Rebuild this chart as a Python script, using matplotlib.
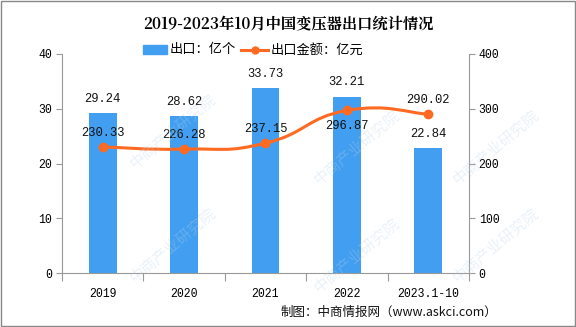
import matplotlib
matplotlib.use("Agg")
import matplotlib.pyplot as plt
from matplotlib.path import Path
from matplotlib.patches import PathPatch, Rectangle
from matplotlib.lines import Line2D
import numpy as np

plt.rcParams['font.family'] = ['Noto Sans CJK SC', 'DejaVu Sans']

categories = ["2019", "2020", "2021", "2022", "2023.1-10"]
export_qty = [29.24, 28.62, 33.73, 32.21, 22.84]
export_value = [230.33, 226.28, 237.15, 296.87, 290.02]
left_ticks = [0, 10, 20, 30, 40]
right_ticks = [0, 100, 200, 300, 400]

BAR = "#419EF0"
LINE = "#FF6A22"
MONO = ['Liberation Mono', 'DejaVu Sans Mono']

fig = plt.figure(figsize=(5.76, 3.27), dpi=100)
ax = fig.add_axes([0.1076, 0.165, 0.7066, 0.670])
ax2 = ax.twinx()

# faint watermarks (kept inside the figure)
for (wx, wy) in [(0.30, 0.60), (0.62, 0.55), (0.86, 0.55), (0.30, 0.25), (0.62, 0.22), (0.86, 0.25)]:
    fig.text(wx, wy, "中商产业研究院", rotation=40, fontsize=11, color="#B9D3EA",
             alpha=0.3, ha="center", va="center", zorder=0)
ax.patch.set_alpha(0)
ax2.patch.set_alpha(0)

x = np.arange(len(categories))
ax.bar(x, export_qty, width=0.34, color=BAR, zorder=2)
ax.set_xlim(-0.5, len(categories) - 0.5)
ax.set_ylim(0, 40)
ax2.set_ylim(0, 400)
ax.set_yticks(left_ticks)
ax2.set_yticks(right_ticks)

for xi, v in zip(x, export_qty):
    ax.annotate(f"{v:.2f}", (xi, v), xytext=(0, 6), textcoords="offset points",
                ha="center", va="bottom", fontsize=8.7, family=MONO, color="#111111")

# smooth line via cubic Bezier through the data points
pts = list(zip(x.astype(float), export_value))
verts = [pts[0]]
codes = [Path.MOVETO]
k = 0.25
for i in range(len(pts) - 1):
    p0 = pts[i - 1] if i > 0 else pts[i]
    p1 = pts[i]
    p2 = pts[i + 1]
    p3 = pts[i + 2] if i + 2 < len(pts) else pts[i + 1]
    c1 = (p1[0] + (p2[0] - p0[0]) * k, p1[1] + (p2[1] - p0[1]) * k)
    c2 = (p2[0] - (p3[0] - p1[0]) * k, p2[1] - (p3[1] - p1[1]) * k)
    verts += [c1, c2, p2]
    codes += [Path.CURVE4, Path.CURVE4, Path.CURVE4]
ax2.add_patch(PathPatch(Path(verts, codes), fill=False, edgecolor=LINE, lw=2.2, zorder=3))
ax2.plot(x, export_value, linestyle="none", marker="o", markersize=6, color=LINE, zorder=4)

for i, (xi, v) in enumerate(zip(x, export_value)):
    if i == 3:
        ax2.annotate(f"{v:.2f}", (xi, v), xytext=(0, -7), textcoords="offset points",
                     ha="center", va="top", fontsize=8.7, family=MONO, color="#111111", zorder=5)
    else:
        ax2.annotate(f"{v:.2f}", (xi, v), xytext=(0, 6), textcoords="offset points",
                     ha="center", va="bottom", fontsize=8.7, family=MONO, color="#111111", zorder=5)

# axes styling
for a in (ax, ax2):
    for sp in a.spines.values():
        sp.set_color("#999999")
    a.spines['top'].set_visible(False)
ax.spines['right'].set_visible(False)
ax2.spines['left'].set_visible(False)
ax2.spines['bottom'].set_visible(False)

ax.set_xticks(np.arange(-0.5, len(categories), 1.0))
ax.set_xticklabels([])
ax.set_xticks(x, minor=True)
ax.set_xticklabels(categories, minor=True, family=MONO, fontsize=8.3)
ax.tick_params(axis='x', which='major', length=6, color="#999999", direction='out')
ax.tick_params(axis='x', which='minor', length=0, pad=11)
ax.tick_params(axis='y', length=4, color="#999999", labelsize=8.3, pad=3)
ax2.tick_params(axis='y', length=4, color="#999999", labelsize=8.3, pad=3)
for lab in ax.get_yticklabels() + ax2.get_yticklabels():
    lab.set_family(MONO)

# title
fig.text(0.5, 0.925, "2019-2023年10月中国变压器出口统计情况", ha="center", va="center",
         fontsize=11, fontweight="bold", family=['Noto Serif CJK SC', 'Noto Sans CJK SC', 'DejaVu Sans'])

# legend (manual)
fig.patches.append(Rectangle((143 / 576, 1 - 54 / 327), 24 / 576, 9 / 327,
                             transform=fig.transFigure, color=BAR))
fig.text(170 / 576, 1 - 50 / 327, "出口：亿个", va="center", ha="left", fontsize=9.5)
fig.lines.append(Line2D([241 / 576, 268 / 576], [1 - 50 / 327] * 2, transform=fig.transFigure,
                        color=LINE, lw=2.2))
fig.lines.append(Line2D([254.5 / 576], [1 - 50 / 327], transform=fig.transFigure,
                        color=LINE, marker="o", markersize=5))
fig.text(271 / 576, 1 - 50 / 327, "出口金额：亿元", va="center", ha="left", fontsize=9.5)

# footer
fig.text(497 / 576, 1 - 312 / 327, "制图：中商情报网（www.askci.com）", ha="right", va="center",
         fontsize=9, color="#111111")

# border
fig.patches.append(Rectangle((0.001, 0.002), 0.997, 0.995, transform=fig.transFigure,
                             fill=False, edgecolor="#888888", lw=1))

fig.savefig("out.png", dpi=100)
